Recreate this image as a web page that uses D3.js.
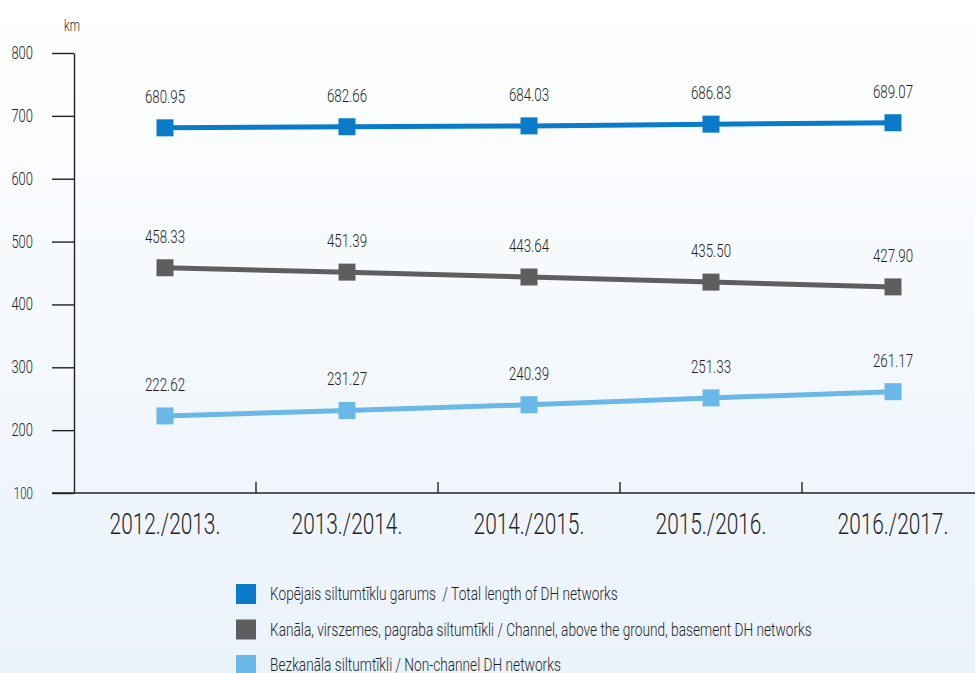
<!DOCTYPE html>
<html>
<head>
<meta charset="utf-8">
<script src="https://cdn.jsdelivr.net/npm/d3@7"></script>
<style>
  body { margin: 0; }
  svg { display: block; font-family: Roboto, "Noto Sans", sans-serif; font-weight: 300; }
</style>
</head>
<body>
<svg id="chart" width="975" height="673"></svg>
<script>
const seasons = ["2012./2013.", "2013./2014.", "2014./2015.", "2015./2016.", "2016./2017."];
const totalLength = [680.95, 682.66, 684.03, 686.83, 689.07];
const channelNetworks = [458.33, 451.39, 443.64, 435.50, 427.90];
const nonChannelNetworks = [222.62, 231.27, 240.39, 251.33, 261.17];
const yTicks = [100, 200, 300, 400, 500, 600, 700, 800];

const series = [
    { name: "Kopējais siltumtīklu garums  / Total length of DH networks", values: totalLength, color: "#0a7bc9" },
    { name: "Kanāla, virszemes, pagraba siltumtīkli / Channel, above the ground, basement DH networks", values: channelNetworks, color: "#5e5e5e" },
    { name: "Bezkanāla siltumtīkli / Non-channel DH networks", values: nonChannelNetworks, color: "#6ab8e8" }
];

const svg = d3.select("#chart");
const width = 975, height = 673;

// text squeezed horizontally around its anchor point (the original typeface is condensed)
function label(parent, x, y, txt, size, anchor, squeeze) {
    return parent.append("text")
        .attr("transform", `translate(${x},${y}) scale(${squeeze || 0.72},1)`)
        .attr("text-anchor", anchor || "middle")
        .attr("font-size", size)
        .attr("fill", "#1f1f1f")
        .style("white-space", "pre")
        .text(txt);
}

const grad = svg.append("defs").append("linearGradient")
    .attr("id", "bg").attr("x1", 0).attr("y1", 0).attr("x2", 0).attr("y2", 1);
grad.append("stop").attr("offset", "0%").attr("stop-color", "#ffffff");
grad.append("stop").attr("offset", "100%").attr("stop-color", "#eaf2fb");
svg.append("rect").attr("width", width).attr("height", height).attr("fill", "url(#bg)");

const x = d3.scaleBand().domain(seasons).range([74, 984]);
const y = d3.scaleLinear().domain([100, 800]).range([493, 53]);
const cx = d => x(d) + x.bandwidth() / 2;

// y axis
const yAxis = svg.append("g")
    .attr("transform", "translate(74,0)")
    .call(d3.axisLeft(y).tickValues(yTicks).tickSize(22).tickSizeOuter(0).tickFormat(""));
yAxis.select(".domain").attr("stroke", "#222").attr("stroke-width", 1.4);
yAxis.selectAll(".tick line").attr("stroke", "#222").attr("stroke-width", 1.4);
yTicks.forEach(t => label(svg, 33, y(t) + 6, t, t === 100 ? 16 : 18, "end"));

label(svg, 72, 31, "km", 16);

// x axis
svg.append("line").attr("x1", 52).attr("x2", width).attr("y1", y(100)).attr("y2", y(100))
    .attr("stroke", "#222").attr("stroke-width", 1.4);
svg.selectAll(".sep").data(seasons.slice(1)).enter().append("line")
    .attr("x1", d => x(d)).attr("x2", d => x(d))
    .attr("y1", y(100) - 11).attr("y2", y(100))
    .attr("stroke", "#222").attr("stroke-width", 1.4);
seasons.forEach(s => label(svg, cx(s), 534, s, 29));

// lines
const line = d3.line().x((d, i) => cx(seasons[i])).y(d => y(d));
series.forEach(s => {
    const g = svg.append("g");
    g.append("path").datum(s.values).attr("d", line)
        .attr("fill", "none").attr("stroke", s.color).attr("stroke-width", 5);
    g.selectAll("rect").data(s.values).enter().append("rect")
        .attr("x", (d, i) => cx(seasons[i]) - 8.5).attr("y", d => y(d) - 8.5)
        .attr("width", 17).attr("height", 17).attr("fill", s.color);
    s.values.forEach((v, i) => label(g, cx(seasons[i]), y(v) - 25, v.toFixed(2), 18.5));
});

// legend
const legend = svg.append("g").attr("transform", "translate(236,584)");
series.forEach((s, i) => {
    const row = legend.append("g").attr("transform", `translate(0,${i * 35.5})`);
    row.append("rect").attr("width", 20).attr("height", 20).attr("fill", s.color);
    label(row, 34, 16, s.name, 18.5, "start", 0.74);
});
</script>
</body>
</html>
